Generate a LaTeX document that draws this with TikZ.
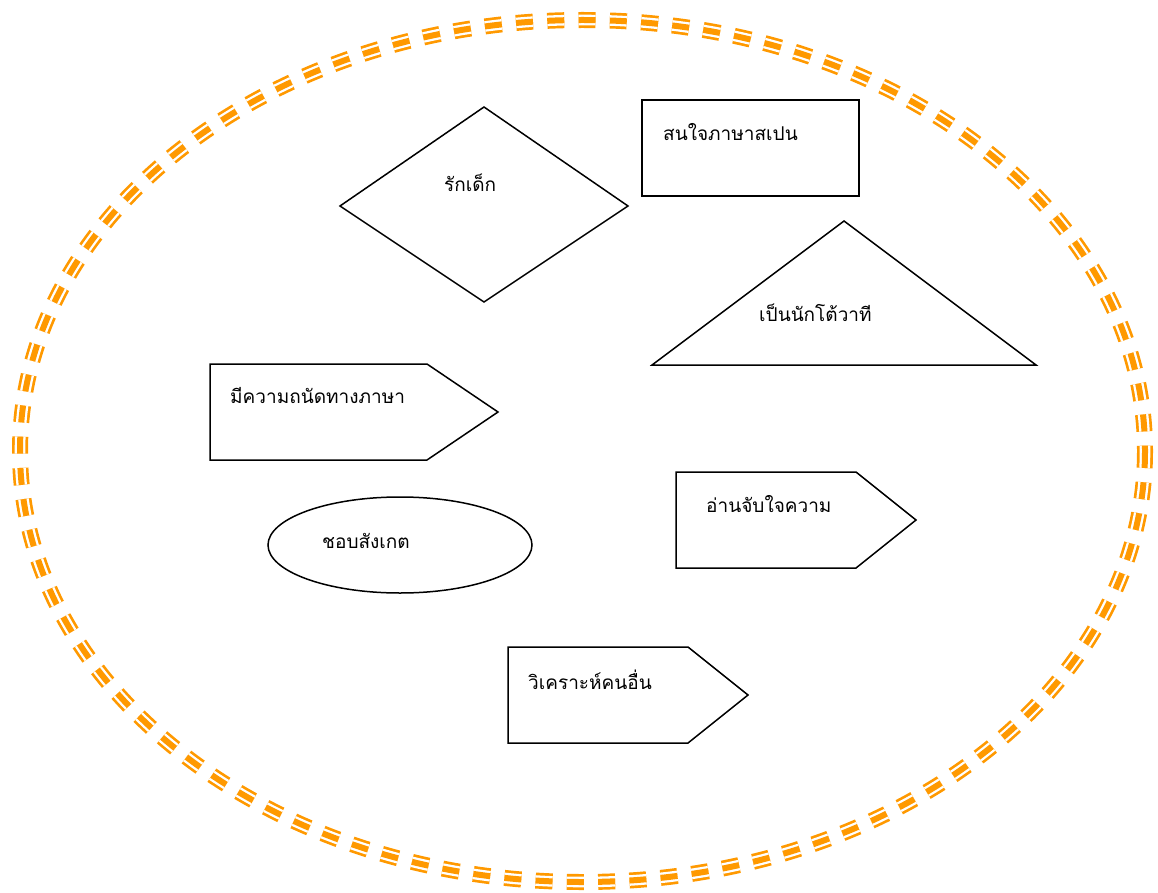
\documentclass[tikz,border=0pt]{standalone}
\usepackage{fontspec}
\newfontfamily\thaifont[Script=Thai]{Loma}
\definecolor{borderorange}{RGB}{255,153,0}
\begin{document}
\begin{tikzpicture}[x=1pt,y=-1pt,
  shapeline/.style={draw=black,line width=1.5pt,line join=miter},
  lbl/.style={anchor=west,inner sep=0pt,font=\thaifont\fontsize{19}{21}\selectfont},
  dpat/.style={dash pattern=on 17pt off 14.3pt}]
\useasboundingbox (0,0) rectangle (1158,893);
% triple dashed border
\draw[borderorange,line width=16pt,dpat] (582.5,451) ellipse [x radius=562.5,y radius=431];
\draw[white,line width=10.6pt,dpat] (582.5,451) ellipse [x radius=562.5,y radius=431];
\draw[borderorange,line width=6pt,dpat] (582.5,451) ellipse [x radius=562.5,y radius=431];
% diamond
\draw[shapeline] (484,107) -- (628,206) -- (484,302) -- (340,206) -- cycle;
\node[lbl] (t1) at (444,183) {รักเด็ก};
% rectangle
\draw[shapeline] (642,100) rectangle (859,196);
\node[lbl] (t2) at (663,132) {สนใจภาษาสเปน};
% triangle
\draw[shapeline] (844,221) -- (1036,365) -- (652,365) -- cycle;
\node[lbl] (t3) at (759,313) {เป็นนักโต้วาที};
% pentagon 1
\draw[shapeline] (210,364) -- (427,364) -- (498,412) -- (427,460) -- (210,460) -- cycle;
\node[lbl] (t4) at (230,396) {มีความถนัดทางภาษา};
% ellipse
\draw[shapeline] (400,545) ellipse [x radius=132,y radius=48];
\node[lbl] (t5) at (322,541) {ชอบสังเกต};
% pentagon 2
\draw[shapeline] (676,472) -- (856,472) -- (916,520) -- (856,568) -- (676,568) -- cycle;
\node[lbl] (t6) at (706,504) {อ่านจับใจความ};
% pentagon 3
\draw[shapeline] (508,647) -- (688,647) -- (748,695) -- (688,743) -- (508,743) -- cycle;
\node[lbl] (t7) at (528,680) {วิเคราะห์คนอื่น};
\end{tikzpicture}
\end{document}
